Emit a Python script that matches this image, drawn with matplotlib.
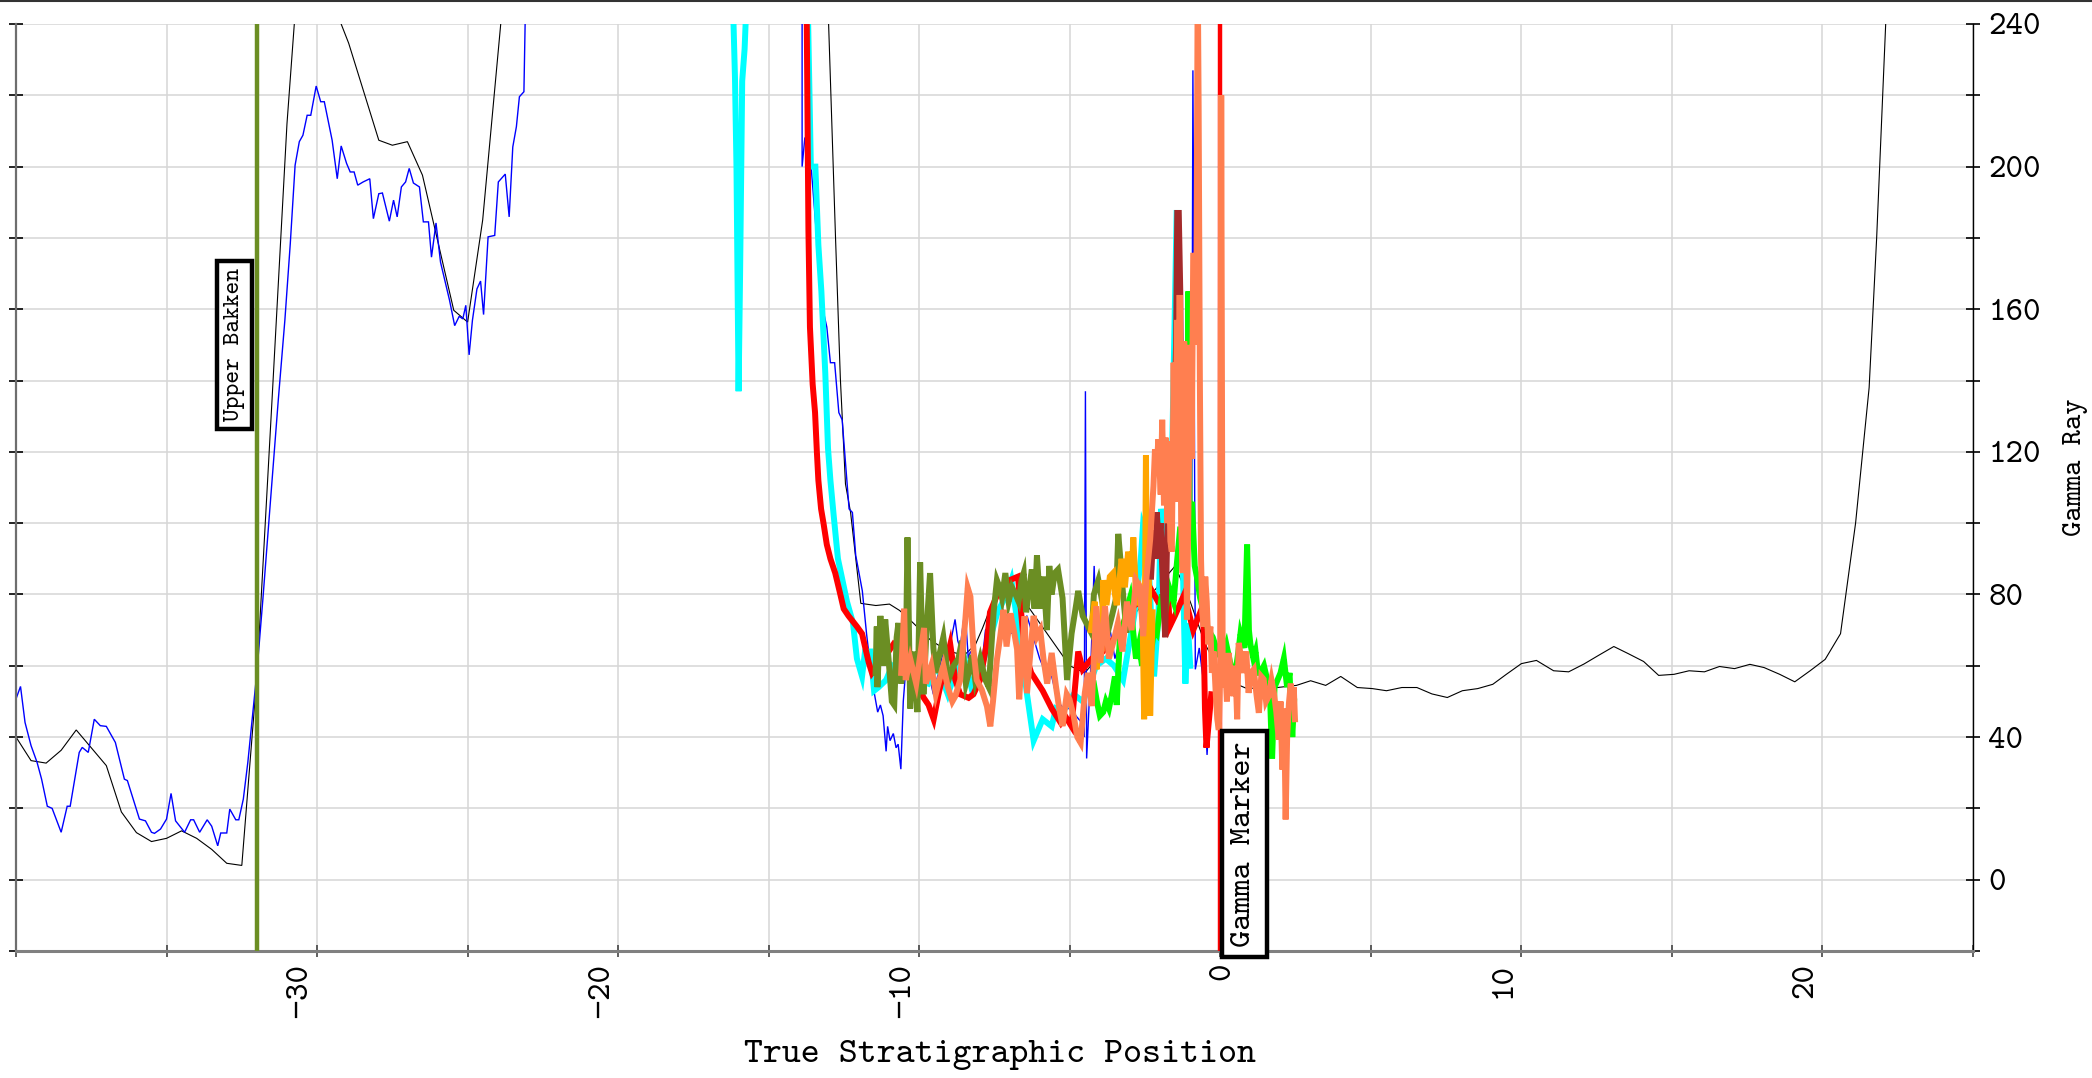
import matplotlib
matplotlib.use('Agg')
import matplotlib.pyplot as plt
from matplotlib.lines import Line2D
from matplotlib.transforms import ScaledTranslation

plt.rcParams['font.family'] = ['cmtt10', 'Liberation Mono', 'DejaVu Sans Mono']

# ---- data (x = true stratigraphic position, y = gamma ray) ----
type_log = [(-40.0, 40), (-39.5, 33.4), (-39.0, 32.7), (-38.5, 36.3), (-38.0, 42), (-37.5, 37),
            (-37.0, 32), (-36.5, 19), (-36.0, 13.2), (-35.5, 10.7), (-35.0, 11.6), (-34.5, 13.7),
            (-34.0, 11.6), (-33.5, 8.5), (-33.0, 4.6), (-32.5, 4.0), (-32.0, 57), (-31.5, 134),
            (-31.0, 212), (-30.6, 258), (-30.3, 262), (-29.5, 248), (-29.2, 240), (-28.95, 234.6),
            (-27.95, 207.4), (-27.5, 206), (-27.0, 207), (-26.5, 197.6), (-25.46, 159.7), (-25.0, 156.4),
            (-24.5, 185), (-23.9, 240), (-23.7, 258), (-13.15, 275), (-13.01, 240), (-12.78, 180),
            (-12.62, 140.6), (-12.45, 111), (-12.28, 103), (-11.94, 77.5), (-11.44, 76.9), (-10.99, 77.3),
            (-10.65, 75.5), (-10.2, 72), (-9.6, 67), (-9.0, 64), (-8.5, 63), (-8.13, 66), (-7.9, 70.5),
            (-7.46, 80), (-7.0, 82), (-6.5, 78), (-6.0, 72), (-5.5, 66), (-5.0, 60), (-4.5, 58),
            (-4.0, 63), (-3.5, 68), (-3.0, 73), (-2.5, 78), (-2.0, 83), (-1.5, 88), (-1.0, 78),
            (-0.5, 66), (0.0, 58), (0.5, 55), (0.83, 53.8), (1.5, 53.5), (2.0, 54), (2.53, 54.5),
            (3.0, 55.8), (3.5, 54.5), (4.0, 57), (4.55, 53.9), (5.05, 53.6), (5.52, 53), (6.03, 53.9),
            (6.53, 53.9), (7.03, 52.1), (7.54, 51.1), (8.04, 53), (8.55, 53.6), (9.05, 54.8), (9.5, 57.6),
            (10.0, 60.6), (10.5, 61.5), (11.07, 58.6), (11.57, 58.3), (12.08, 60.5), (12.56, 62.9),
            (13.07, 65.4), (13.55, 63.4), (14.06, 61.2), (14.56, 57.3), (15.07, 57.6), (15.57, 58.6),
            (16.08, 58.3), (16.58, 59.8), (17.08, 59.2), (17.59, 60.4), (18.06, 59.5), (18.58, 57.6),
            (19.08, 55.5), (19.59, 58.6), (20.09, 61.8), (20.6, 69), (21.1, 100), (21.55, 138),
            (21.8, 180), (22.1, 240), (22.3, 262)]

blue_left = [(-40.0, 50.7), (-39.85, 54.2), (-39.7, 44.1), (-39.5, 37.6), (-39.3, 32.9), (-39.15, 28.2),
             (-38.96, 20.6), (-38.8, 20.0), (-38.5, 13.3), (-38.3, 20.6), (-38.2, 20.6), (-37.9, 35.7),
             (-37.8, 37.1), (-37.6, 35.7), (-37.4, 45.0), (-37.2, 43.2), (-37.0, 43.0), (-36.7, 38.5),
             (-36.4, 28.2), (-36.3, 27.8), (-35.9, 17.0), (-35.7, 16.5), (-35.5, 13.3), (-35.4, 13.0),
             (-35.2, 14.2), (-35.0, 17.0), (-34.85, 24.2), (-34.7, 16.5), (-34.4, 13.3), (-34.2, 16.8),
             (-34.1, 16.8), (-33.9, 13.3), (-33.65, 16.8), (-33.5, 15.0), (-33.3, 9.5), (-33.2, 13.1),
             (-33.0, 13.1), (-32.9, 19.8), (-32.7, 16.8), (-32.6, 16.8), (-32.45, 22.6), (-32.3, 32.9),
             (-32.0, 58.1), (-31.8, 78.7), (-31.29, 134.4), (-31.07, 156.9), (-30.89, 178.4),
             (-30.73, 200.4), (-30.59, 207.0), (-30.47, 208.8), (-30.33, 214.4), (-30.21, 214.4),
             (-30.03, 222.6), (-29.88, 218.2), (-29.76, 218.2), (-29.5, 207.4), (-29.33, 196.6),
             (-29.2, 205.8), (-29.02, 200.9), (-28.9, 198.5), (-28.77, 198.5), (-28.65, 194.8),
             (-28.47, 195.7), (-28.25, 196.6), (-28.13, 185.4), (-27.95, 192.4), (-27.83, 192.6),
             (-27.6, 184.7), (-27.46, 190.6), (-27.34, 185.9), (-27.2, 194.3), (-27.06, 195.7),
             (-26.94, 199.5), (-26.8, 195.4), (-26.6, 194.3), (-26.47, 184.5), (-26.3, 184.5),
             (-26.2, 174.6), (-26.05, 184.2), (-25.9, 173.2), (-25.6, 162.5), (-25.43, 155.4),
             (-25.28, 158.0), (-25.16, 157.3), (-25.06, 161.1), (-24.95, 147.2), (-24.84, 156.9),
             (-24.69, 165.7), (-24.57, 167.9), (-24.47, 158.5), (-24.32, 180.3), (-24.1, 180.7),
             (-23.98, 195.7), (-23.75, 197.9), (-23.62, 185.9), (-23.5, 205.5), (-23.38, 211.2),
             (-23.28, 219.6), (-23.13, 221.0), (-23.09, 240.0), (-23.0, 260.0)]

blue_mid = [(-13.89, 245), (-13.89, 200), (-13.8, 208), (-13.71, 208), (-13.6, 201), (-13.45, 185),
            (-13.3, 168), (-13.2, 160), (-13.07, 155), (-12.95, 145), (-12.81, 145), (-12.67, 131),
            (-12.56, 129), (-12.33, 104), (-12.22, 103), (-12.11, 91), (-11.89, 81), (-11.75, 69),
            (-11.57, 56), (-11.38, 47), (-11.29, 49), (-11.2, 46), (-11.1, 36), (-11.05, 43),
            (-10.97, 39), (-10.86, 41), (-10.77, 37), (-10.7, 38), (-10.61, 31), (-10.53, 50),
            (-10.42, 62), (-10.2, 60), (-10.0, 58), (-9.8, 62), (-9.53, 52), (-9.48, 55), (-9.42, 56),
            (-9.2, 64), (-8.97, 66), (-8.81, 73), (-8.72, 67), (-8.64, 65), (-8.48, 76), (-8.37, 62),
            (-8.3, 64), (-8.14, 62), (-7.95, 58), (-7.8, 70), (-7.6, 72), (-7.31, 77), (-7.1, 74),
            (-6.94, 69), (-6.7, 72), (-6.42, 74), (-6.28, 70), (-6.0, 62), (-5.8, 58), (-5.6, 57),
            (-5.4, 50), (-5.2, 48), (-5.0, 48), (-4.8, 46), (-4.6, 44), (-4.52, 40), (-4.48, 137),
            (-4.44, 34), (-4.3, 60), (-4.19, 88), (-4.1, 65), (-3.9, 70), (-3.7, 72), (-3.5, 62),
            (-3.3, 68), (-3.1, 75), (-2.9, 78), (-2.7, 80), (-2.5, 82), (-2.3, 86), (-2.1, 98),
            (-2.0, 92), (-1.9, 84), (-1.75, 96), (-1.6, 100), (-1.5, 150), (-1.45, 187), (-1.4, 187),
            (-1.35, 150), (-1.25, 110), (-1.1, 90), (-0.95, 100), (-0.91, 227), (-0.88, 175),
            (-0.83, 59), (-0.7, 65), (-0.55, 55), (-0.44, 35), (-0.35, 50)]

cyan_a = [(-16.2, 250), (-16.12, 225), (-16.07, 200), (-16.0, 137), (-15.95, 170), (-15.88, 224),
          (-15.8, 233), (-15.72, 250)]

cyan_b = [(-13.7, 245), (-13.6, 200), (-13.45, 200), (-13.35, 178), (-13.25, 165), (-13.12, 142),
          (-13.03, 121), (-12.95, 112), (-12.84, 102), (-12.7, 90), (-12.55, 84), (-12.4, 78),
          (-12.2, 72), (-12.07, 62), (-11.9, 57), (-11.8, 64), (-11.62, 64), (-11.5, 53), (-11.35, 54),
          (-11.1, 56), (-10.9, 60), (-10.6, 58), (-10.3, 62), (-10.0, 56), (-9.7, 55), (-9.4, 60),
          (-9.05, 52), (-8.8, 58), (-8.5, 62), (-8.27, 54), (-8.0, 58), (-7.7, 66), (-7.4, 75),
          (-7.1, 80), (-6.94, 84), (-6.7, 70), (-6.42, 52), (-6.2, 39), (-5.9, 45), (-5.6, 43),
          (-5.46, 48), (-5.24, 47), (-4.87, 52), (-4.57, 50), (-4.42, 53), (-4.12, 60), (-3.8, 62),
          (-3.53, 60), (-3.23, 56), (-3.09, 63), (-2.86, 74), (-2.64, 90), (-2.57, 99), (-2.42, 95),
          (-2.2, 57), (-2.05, 75), (-1.97, 104), (-1.8, 93), (-1.6, 120), (-1.45, 187), (-1.4, 187),
          (-1.3, 110), (-1.16, 55), (-1.08, 72), (-1.0, 60)]

red = [(-13.74, 245), (-13.68, 182), (-13.63, 155), (-13.54, 139), (-13.46, 131), (-13.4, 120),
       (-13.35, 112), (-13.26, 104), (-13.18, 100), (-13.07, 94), (-12.95, 90), (-12.79, 86),
       (-12.62, 80), (-12.51, 76), (-12.35, 74), (-12.07, 71), (-11.9, 69), (-11.68, 61), (-11.57, 58),
       (-11.4, 60), (-11.1, 63), (-10.86, 66), (-10.64, 64), (-10.4, 58), (-10.1, 55), (-9.85, 51),
       (-9.69, 49), (-9.52, 45), (-9.36, 52), (-9.2, 58), (-8.97, 66), (-8.8, 56), (-8.64, 52),
       (-8.36, 51), (-8.2, 52), (-7.98, 56), (-7.76, 66), (-7.65, 75), (-7.31, 82), (-7.0, 84),
       (-6.72, 85), (-6.5, 64), (-6.28, 58), (-5.9, 53), (-5.6, 48), (-5.3, 44), (-5.16, 46),
       (-4.94, 43), (-4.72, 64), (-4.57, 59), (-4.27, 62), (-3.9, 64), (-3.6, 67), (-3.3, 70),
       (-3.08, 75), (-2.71, 78), (-2.34, 82), (-2.07, 78), (-1.73, 79), (-1.68, 71), (-1.51, 74),
       (-1.2, 80), (-0.9, 70), (-0.57, 77), (-0.51, 48), (-0.46, 37), (-0.3, 52)]

olive = [(-11.45, 58), (-11.41, 71), (-11.39, 54), (-11.29, 74), (-11.2, 60), (-11.13, 73),
         (-11.02, 62), (-10.91, 50), (-10.83, 49), (-10.75, 68), (-10.69, 72), (-10.6, 55),
         (-10.52, 62), (-10.45, 58), (-10.39, 96), (-10.3, 48), (-10.17, 64), (-10.06, 47),
         (-9.97, 89), (-9.86, 52), (-9.75, 71), (-9.64, 86), (-9.53, 65), (-9.45, 58), (-9.36, 62),
         (-9.2, 68), (-9.03, 56), (-8.86, 60), (-8.7, 62), (-8.58, 67), (-8.45, 55), (-8.36, 58),
         (-8.25, 63), (-8.14, 56), (-7.97, 62), (-7.8, 56), (-7.69, 54), (-7.53, 75), (-7.42, 84),
         (-7.33, 82), (-7.25, 79), (-7.14, 86), (-7.03, 78), (-6.92, 82), (-6.8, 80), (-6.7, 78),
         (-6.6, 84), (-6.53, 86), (-6.45, 75), (-6.37, 80), (-6.26, 87), (-6.17, 76), (-6.09, 91),
         (-5.98, 76), (-5.87, 85), (-5.76, 70), (-5.68, 88), (-5.6, 80), (-5.5, 86), (-5.39, 87),
         (-5.24, 79), (-5.09, 56), (-4.94, 69), (-4.79, 77), (-4.72, 81), (-4.57, 74), (-4.45, 72),
         (-4.27, 69), (-4.2, 80), (-4.05, 84), (-3.9, 77), (-3.75, 69), (-3.6, 74), (-3.46, 79),
         (-3.39, 97), (-3.31, 89), (-3.23, 80), (-3.12, 70)]

lime = [(-4.2, 55), (-4.1, 50), (-4.0, 46), (-3.89, 47), (-3.8, 50), (-3.7, 48), (-3.6, 52),
        (-3.5, 57), (-3.44, 49), (-3.33, 69), (-3.2, 72), (-3.1, 76), (-3.0, 79), (-2.9, 70),
        (-2.8, 62), (-2.7, 66), (-2.6, 60), (-2.5, 70), (-2.4, 58), (-2.33, 62), (-2.2, 70),
        (-2.11, 69), (-1.94, 80), (-1.83, 75), (-1.7, 82), (-1.55, 78), (-1.45, 88), (-1.33, 99),
        (-1.2, 90), (-1.1, 96), (-1.06, 165), (-1.02, 95), (-0.94, 106), (-0.85, 88), (-0.78, 85),
        (-0.67, 79), (-0.55, 75), (-0.4, 70), (-0.25, 68), (-0.1, 64), (0.05, 62), (0.2, 66),
        (0.35, 60), (0.5, 58), (0.6, 64), (0.67, 69), (0.8, 65), (0.89, 94), (0.95, 70), (1.0, 66),
        (1.1, 62), (1.17, 64), (1.25, 58), (1.33, 58), (1.45, 60), (1.56, 56), (1.65, 52),
        (1.72, 34), (1.8, 54), (1.9, 56), (2.0, 58), (2.11, 62), (2.22, 54), (2.3, 58), (2.39, 40),
        (2.45, 50)]

orange = [(-4.3, 70), (-4.17, 78), (-4.11, 59), (-4.0, 71), (-3.95, 64), (-3.89, 84), (-3.78, 77),
          (-3.67, 85), (-3.56, 86), (-3.5, 80), (-3.44, 77), (-3.35, 84), (-3.28, 90), (-3.17, 82),
          (-3.06, 92), (-2.98, 88), (-2.94, 85), (-2.89, 96), (-2.78, 77), (-2.68, 80), (-2.58, 73),
          (-2.53, 45), (-2.47, 119), (-2.42, 60), (-2.39, 101), (-2.33, 46), (-2.25, 75)]

brown = [(-2.3, 85), (-2.22, 98), (-2.15, 90), (-2.11, 103), (-2.05, 95), (-1.98, 100), (-1.9, 80),
         (-1.83, 68), (-1.78, 90), (-1.72, 113), (-1.66, 95), (-1.61, 104), (-1.55, 120),
         (-1.47, 150), (-1.43, 187), (-1.38, 187), (-1.33, 165), (-1.28, 110), (-1.2, 90)]

coral = [(-10.6, 58), (-10.5, 76), (-10.45, 56), (-10.3, 62), (-10.1, 55), (-9.95, 64), (-9.84, 70.6),
         (-9.78, 55), (-9.6, 60), (-9.45, 52), (-9.3, 57), (-9.2, 60), (-9.05, 54), (-8.9, 50),
         (-8.8, 51.5), (-8.64, 56), (-8.58, 62.6), (-8.47, 72.8), (-8.39, 81.9), (-8.3, 79.4),
         (-8.2, 64.6), (-8.09, 56), (-7.92, 53.2), (-7.75, 48.6), (-7.64, 43), (-7.55, 50),
         (-7.42, 61.7), (-7.31, 68.2), (-7.2, 75.7), (-7.1, 65.4), (-6.97, 74.7), (-6.86, 70),
         (-6.75, 64.6), (-6.68, 50.6), (-6.6, 62), (-6.5, 73.9), (-6.42, 52.3), (-6.31, 63.6),
         (-6.2, 74), (-6.09, 68.2), (-5.98, 70), (-5.87, 61.7), (-5.75, 55), (-5.6, 63.6),
         (-5.46, 54.3), (-5.35, 48), (-5.24, 43.1), (-5.1, 52), (-5.01, 50.6), (-4.87, 45.9),
         (-4.75, 40), (-4.64, 38.4), (-4.5, 52.4), (-4.4, 58), (-4.27, 48.7), (-4.12, 76.7),
         (-3.98, 60.8), (-3.83, 76.7), (-3.7, 62), (-3.53, 67.4), (-3.4, 72), (-3.25, 64), (-3.1, 78),
         (-2.95, 70), (-2.8, 84), (-2.67, 82.3), (-2.56, 68.3), (-2.45, 85), (-2.33, 95.4),
         (-2.22, 110.4), (-2.17, 120.7), (-2.1, 117), (-2.06, 123.5), (-1.98, 108), (-1.93, 129),
         (-1.87, 105), (-1.82, 124), (-1.76, 100), (-1.71, 123), (-1.66, 95), (-1.61, 92),
         (-1.55, 145), (-1.5, 106), (-1.44, 157), (-1.39, 120), (-1.35, 164), (-1.3, 100),
         (-1.25, 86), (-1.2, 151), (-1.15, 120), (-1.11, 73), (-1.05, 110), (-1.0, 150), (-0.95, 118),
         (-0.9, 175), (-0.85, 175), (-0.8, 150), (-0.75, 255), (-0.72, 217), (-0.68, 142),
         (-0.64, 90), (-0.6, 75), (-0.55, 71), (-0.5, 85), (-0.45, 78), (-0.4, 66), (-0.33, 71),
         (-0.28, 58), (-0.22, 64), (-0.15, 52), (-0.1, 45), (-0.05, 42), (0.0, 60), (0.03, 220),
         (0.08, 54), (0.15, 62), (0.22, 50), (0.28, 63.6), (0.36, 56), (0.44, 51.5), (0.5, 60),
         (0.56, 45), (0.61, 66.4), (0.7, 62), (0.78, 58), (0.86, 64), (0.94, 52.4), (1.02, 58),
         (1.11, 59), (1.2, 52), (1.28, 46.8), (1.36, 57), (1.44, 56.2), (1.52, 50), (1.61, 51.5),
         (1.7, 56), (1.78, 52.4), (1.86, 47), (1.94, 39.3), (2.0, 50), (2.06, 30.9), (2.12, 48),
         (2.17, 16.9), (2.22, 40), (2.28, 49.6), (2.34, 55), (2.39, 48.7), (2.44, 54), (2.48, 45)]

# formation tops: (name, position, colour, label y, label size, side of line)
markers = [('Upper Bakken', -32.0, '#6b8e23', 150, 17.5, 'right'),
           ('Gamma Marker', 0.0, '#ff0000', 10, 23.5, 'left')]

x_ticks = list(range(-40, 26, 5))
y_ticks = list(range(-20, 241, 20))

W, H = 2092, 1078
fig = plt.figure(figsize=(W / 100, H / 100), dpi=100)
ax = fig.add_axes([16 / W, 1 - 951 / H, (1973 - 16) / W, (951 - 24) / H])

ax.set_xlim(-40, 25)
ax.set_ylim(-20, 240)


def draw(pts, color, lw, z):
    xs, ys = zip(*pts)
    ax.plot(xs, ys, color=color, lw=lw, zorder=z, solid_joinstyle='miter')


draw(type_log, 'black', 0.8, 2.0)
draw(blue_left, '#0000ff', 1.0, 2.1)
draw(blue_mid, '#0000ff', 1.0, 2.1)
draw(cyan_a, '#00ffff', 4.3, 2.2)
draw(cyan_b, '#00ffff', 4.3, 2.2)
draw(red, '#ff0000', 4.3, 2.3)
draw(olive, '#6b8e23', 4.3, 2.4)
draw(lime, '#00ff00', 4.3, 2.5)
draw(orange, '#ffa500', 4.3, 2.6)
draw(brown, '#a52a2a', 4.3, 2.7)

for name, xpos, col, ylab, fs, side in markers:
    ax.axvline(xpos, color=col, lw=3.2, zorder=2.8 if side == 'left' else 3.5)

draw(coral, '#ff7f50', 4.3, 2.9)

for name, xpos, col, ylab, fs, side in markers:
    off = -8.5 if side == 'right' else 8
    ax.annotate(name, xy=(xpos, ylab), xytext=(off, 0), textcoords='offset points',
                rotation=90, ha=side, va='center', fontsize=fs, zorder=5,
                annotation_clip=False,
                bbox=dict(boxstyle='square,pad=0.3', fc='white', ec='black', lw=3.2))

# grid and axes styling
ax.grid(True, color='#d6d6d6', lw=1.1, zorder=0)
ax.set_axisbelow(True)
ax.spines['top'].set_visible(False)
ax.spines['left'].set_color('#6e6e6e')
ax.spines['left'].set_linewidth(1.6)
ax.spines['bottom'].set_color('#808080')
ax.spines['bottom'].set_linewidth(2.2)
ax.spines['right'].set_color('black')
ax.spines['right'].set_linewidth(1.0)

ax.set_xticks(x_ticks)
ax.set_xticklabels([str(v).replace('-', '\u2212') if v % 10 == 0 and v != -40 else '' for v in x_ticks])
ax.tick_params(axis='x', direction='inout', length=9, width=1.2, color='#444444',
               labelsize=24, labelrotation=90, pad=4)

ax.set_yticks(y_ticks)
ax.set_yticklabels([str(v) if v % 40 == 0 else '' for v in y_ticks])
ax.tick_params(axis='y', left=True, right=True, labelleft=False, labelright=True,
               direction='inout', length=10, width=1.2, labelsize=24, pad=6)
for t in ax.yaxis.get_major_ticks():
    t.tick1line.set_color('#444444')
    t.tick2line.set_color('black')

for lab in ax.get_xticklabels():
    dx = 3 if lab.get_text() == '0' else -17
    lab.set_transform(lab.get_transform() + ScaledTranslation(dx / 100, 0, fig.dpi_scale_trans))

fig.text(1000 / W, 1 - 1055 / H, 'True Stratigraphic Position', ha='center', va='center', fontsize=26)
fig.text(2076 / W, 1 - 467 / H, 'Gamma Ray', rotation=90, ha='center', va='center', fontsize=21)
fig.add_artist(Line2D([0, 1], [1 - 1 / H, 1 - 1 / H], transform=fig.transFigure, color='#333333', lw=1.5))

fig.savefig('out.png', dpi=100)
